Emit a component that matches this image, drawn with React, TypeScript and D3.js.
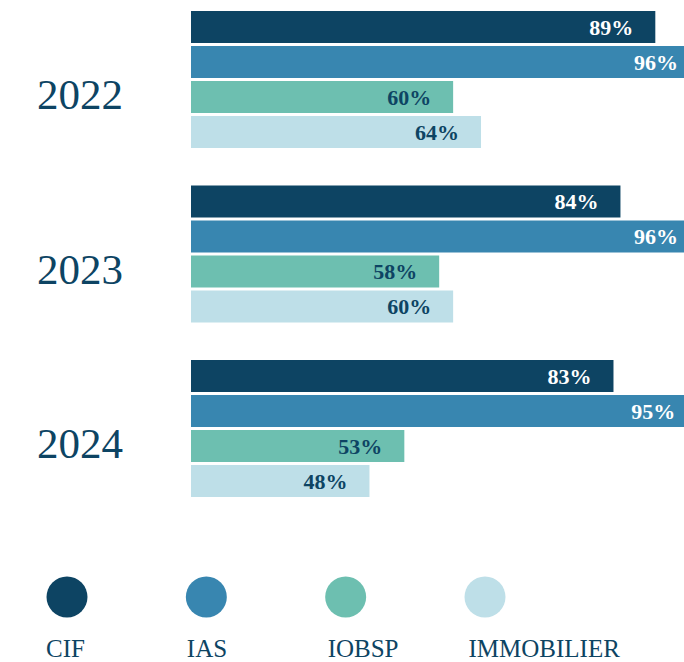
import * as d3 from 'd3';

const years = ['2022', '2023', '2024'];
const series = ['CIF', 'IAS', 'IOBSP', 'IMMOBILIER'];
const colors = ['#0d4463', '#3886b0', '#6dbfb0', '#bedfe8'];
const labelColors = ['#ffffff', '#ffffff', '#0d4463', '#0d4463'];

// percentages per year, in series order
const values2022 = [89, 96, 60, 64];
const values2023 = [84, 96, 58, 60];
const values2024 = [83, 95, 53, 48];
const valuesByYear = [values2022, values2023, values2024];

const W = 684;
const H = 662;
const serif = '"Liberation Serif", "DejaVu Serif", serif';
const ink = '#0d4463';

export default function App() {
  const x = d3.scaleLinear().domain([22.4, 100]).range([191, 732]);

  const yGroup = d3.scaleBand().domain(years).range([11, 497]).paddingInner(1 - 137 / 174.5);

  const yBar = d3
    .scaleBand()
    .domain(series)
    .range([0, yGroup.bandwidth()])
    .paddingInner(3 / 35);

  const legendX = d3.scalePoint().domain(series).range([67, 485]);

  return (
    <svg width={W} height={H} style={{ position: 'absolute', left: 0, top: 0, background: '#fff' }}>
      {years.map((yr, gi) => {
        const y0 = yGroup(yr)!;
        return (
          <g key={yr}>
            <text x={37} y={y0 + 98} fontFamily={serif} fontSize={43} fill={ink}>
              {yr}
            </text>
            {series.map((s, si) => {
              const v = valuesByYear[gi][si];
              const by = y0 + yBar(s)!;
              const xe = x(v);
              return (
                <g key={s}>
                  <rect x={x.range()[0]} y={by} width={xe - x.range()[0]} height={yBar.bandwidth()} fill={colors[si]} />
                  <text
                    x={Math.min(xe, 700) - 22}
                    y={by + yBar.bandwidth() / 2 + 7.5}
                    textAnchor="end"
                    fontFamily={serif}
                    fontWeight="bold"
                    fontSize={22}
                    fill={labelColors[si]}
                  >
                    {v}%
                  </text>
                </g>
              );
            })}
          </g>
        );
      })}

      {/* legend */}
      {series.map((s, i) => {
        const cx = legendX(s)!;
        return (
          <g key={s}>
            <circle cx={cx} cy={597} r={20.5} fill={colors[i]} />
            <text x={cx - 21 + i * 1.5} y={657} fontFamily={serif} fontSize={25} fill={ink}>
              {s}
            </text>
          </g>
        );
      })}
    </svg>
  );
}
